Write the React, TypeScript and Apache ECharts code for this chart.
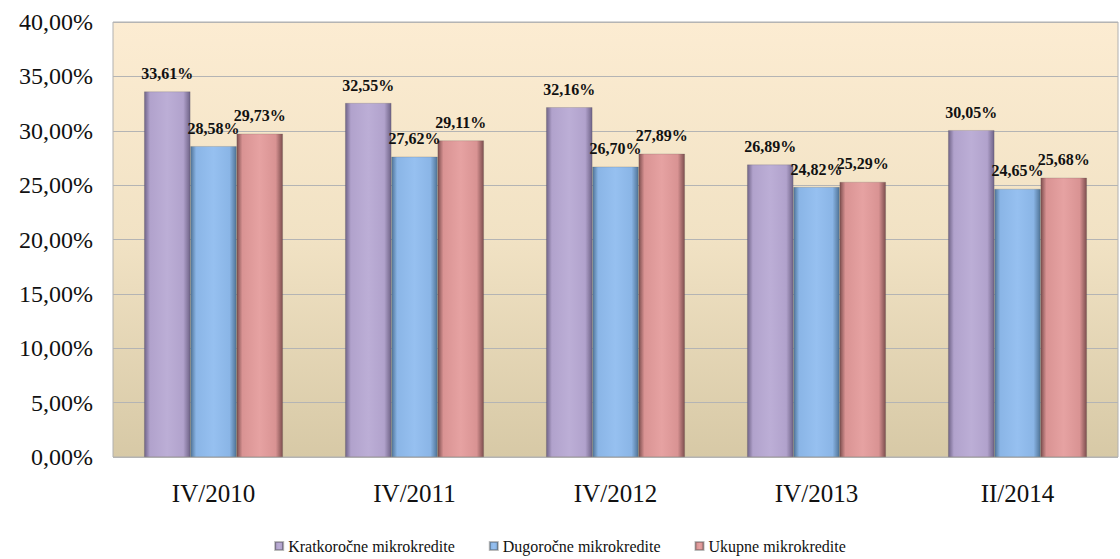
import React, { useEffect, useRef } from "react";
import * as echarts from "echarts";

const categories = ["IV/2010", "IV/2011", "IV/2012", "IV/2013", "II/2014"];
const seriesNames = ["Kratkoročne mikrokredite", "Dugoročne mikrokredite", "Ukupne mikrokredite"];
const kratkorocne = [33.61, 32.55, 32.16, 26.89, 30.05];
const dugorocne = [28.58, 27.62, 26.7, 24.82, 24.65];
const ukupne = [29.73, 29.11, 27.89, 25.29, 25.68];

const fmt = (v: number) => v.toFixed(2).replace(".", ",") + "%";

const bevel = (dark: string, mid: string, light: string) =>
  new echarts.graphic.LinearGradient(0, 0, 1, 0, [
    { offset: 0, color: dark },
    { offset: 0.12, color: mid },
    { offset: 0.5, color: light },
    { offset: 0.85, color: mid },
    { offset: 1, color: dark },
  ]);

export default function App() {
  const ref = useRef<HTMLDivElement>(null);
  useEffect(() => {
    if (!ref.current) return;
    const chart = echarts.init(ref.current, null, { renderer: "svg" });
    const serif = "'Liberation Serif', 'DejaVu Serif', serif";
    const colors = [
      bevel("#6f6387", "#b1a2cc", "#bcaed6"),
      bevel("#4f7396", "#8ab5e6", "#96c0f0"),
      bevel("#7d4e4e", "#d99393", "#e6a2a2"),
    ];
    const legendColors = ["#9d8fba", "#6fa0c8", "#d08a8a"];
    const mk = (name: string, data: number[], i: number) => ({
      name,
      type: "bar",
      data,
      barGap: "0%",
      barCategoryGap: "31%",
      itemStyle: { color: colors[i], borderColor: "rgba(60,60,60,0.35)", borderWidth: 0.5 },
      label: {
        show: true,
        position: "top",
        distance: 10,
        formatter: (p: any) => fmt(p.value),
        fontFamily: serif,
        fontWeight: "bold",
        fontSize: 16,
        color: "#111",
      },
    });
    chart.setOption({
      animation: false,
      textStyle: { fontFamily: serif },
      color: legendColors,
      grid: {
        left: 113,
        right: 2,
        top: 22,
        bottom: 102,
        show: true,
        borderColor: "#b0b0b0",
        borderWidth: 1,
        backgroundColor: new echarts.graphic.LinearGradient(0, 0, 0, 1, [
          { offset: 0, color: "#fcecd2" },
          { offset: 0.5, color: "#f1e2c4" },
          { offset: 1, color: "#d7c9a6" },
        ]),
      },
      legend: {
        bottom: 0,
        left: "center",
        itemWidth: 8,
        itemHeight: 8,
        itemGap: 34,
        icon: "rect",
        textStyle: { fontFamily: "Liberation Serif", fontSize: 16, color: "#111" },
        data: seriesNames.map((n) => ({ name: n, textStyle: { fontFamily: "Liberation Serif" } })),
      },
      xAxis: {
        type: "category",
        data: categories,
        axisTick: { show: false },
        axisLine: { show: false },
        axisLabel: { fontFamily: serif, fontSize: 25, color: "#111", margin: 24 },
      },
      yAxis: {
        type: "value",
        min: 0,
        max: 40,
        interval: 5,
        axisLine: { show: false },
        axisTick: { show: false },
        splitLine: { lineStyle: { color: "#b4b4b4", width: 1 } },
        axisLabel: {
          fontFamily: serif,
          fontSize: 24,
          color: "#111",
          margin: 20,
          formatter: (v: number) => fmt(v),
        },
      },
      series: [mk(seriesNames[0], kratkorocne, 0), mk(seriesNames[1], dugorocne, 1), mk(seriesNames[2], ukupne, 2)],
    });
    return () => chart.dispose();
  }, []);
  return <div ref={ref} style={{ width: 1120, height: 559, position: "absolute", left: 0, top: 0 }} />;
}
